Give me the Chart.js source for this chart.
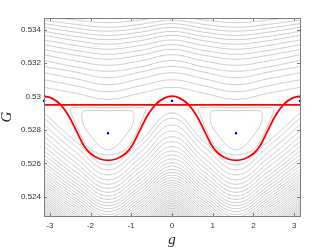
<!DOCTYPE html>
<html>
<head>
<meta charset="utf-8">
<script src="https://cdn.jsdelivr.net/npm/chart.js"></script>
<style>
  html, body { margin: 0; padding: 0; background: #fff; }
  canvas { display: block; }
</style>
</head>
<body>
<canvas id="phaseChart" width="332" height="249"></canvas>
<script>
// g positions where each level curve was read (-pi .. pi in quarter steps)
const gSample = [-3.1416, -2.3562, -1.5708, -0.7854, 0, 0.7854, 1.5708, 2.3562, 3.1416];

// grey level curves above the separatrix: G at g = 0, pi/4, pi/2
const upperAtZero = [0.535021, 0.534811, 0.534571, 0.534361, 0.534139, 0.533899, 0.533659, 0.533383,
  0.533101, 0.532819, 0.532502, 0.532160, 0.531800, 0.531422, 0.531002, 0.530552];
const upperAtQuarter = [0.534805, 0.534577, 0.534319, 0.534091, 0.533851, 0.533599, 0.533341, 0.533053,
  0.532759, 0.532466, 0.532124, 0.531770, 0.531461, 0.531062, 0.530642, 0.530192];
const upperAtHalf = [0.534661, 0.534421, 0.534151, 0.533911, 0.533659, 0.533401, 0.533131, 0.532831,
  0.532532, 0.532232, 0.531872, 0.531512, 0.531122, 0.530702, 0.530282, 0.529832];

// grey level curves below the separatrix: G at g = 0, pi/4, pi/2
const lowerAtZero = [0.529022, 0.528704, 0.528302, 0.527942, 0.527600, 0.527301, 0.527001, 0.526743,
  0.526503, 0.526263, 0.526041, 0.525843, 0.525645, 0.525465, 0.525303, 0.525141, 0.524985, 0.524841,
  0.524703, 0.524565, 0.524421, 0.524301, 0.524181, 0.524061, 0.523941, 0.523821, 0.523713, 0.523611,
  0.523509, 0.523413, 0.523317, 0.523221, 0.523125, 0.523035, 0.522945, 0.522861];
const lowerAtQuarter = [0.527307, 0.527001, 0.526653, 0.526323, 0.526029, 0.525765, 0.525495, 0.525255,
  0.525039, 0.524823, 0.524619, 0.524433, 0.524247, 0.524073, 0.523911, 0.523749, 0.523599, 0.523455,
  0.523317, 0.523179, 0.523035, 0.522915, 0.522795, 0.522675, 0.522556, 0.522436, 0.522328, 0.522226,
  0.522124, 0.522028, 0.521932, 0.521836, 0.521740, 0.521650, 0.521560, 0.521476];
const lowerAtHalf = [0.525903, 0.525603, 0.525303, 0.525003, 0.524745, 0.524505, 0.524265, 0.524043,
  0.523845, 0.523641, 0.523461, 0.523281, 0.523101, 0.522933, 0.522771, 0.522615, 0.522465, 0.522322,
  0.522183, 0.522046, 0.521902, 0.521782, 0.521662, 0.521542, 0.521422, 0.521302, 0.521194, 0.521092,
  0.520990, 0.520894, 0.520798, 0.520702, 0.520606, 0.520516, 0.520426, 0.520342];

// closed curves around the islands at g = +-pi/2
const innerIslandG = [0.927, 1.008, 1.5708, 2.134, 2.215, 2.172, 2.011, 1.888, 1.765, 1.5708,
  1.377, 1.254, 1.131, 0.969, 0.927];
const innerIslandVal = [0.529004, 0.529142, 0.529150, 0.529142, 0.529004, 0.528302, 0.527702, 0.527301,
  0.527001, 0.526803, 0.527001, 0.527301, 0.527702, 0.528302, 0.529004];
const outerIslandG = [0.639, 0.706, 1.5708, 2.436, 2.503, 2.300, 2.120, 1.900, 1.5708, 1.242, 1.022, 0.842, 0.639];
const outerIslandVal = [0.529232, 0.529340, 0.529340, 0.529340, 0.529232, 0.528000, 0.527150, 0.526680,
  0.526503, 0.526680, 0.527150, 0.528000, 0.529232];

// red curves
const redWaveG = [-3.1416, -2.942, -2.731, -2.503, -2.338, -2.173, -2.011, -1.765, -1.5708, -1.377, -1.131,
  -0.969, -0.804, -0.639, -0.411, -0.2, 0, 0.2, 0.411, 0.639, 0.804, 0.969, 1.131, 1.377, 1.5708, 1.765,
  2.011, 2.173, 2.338, 2.503, 2.731, 2.942, 3.1416];
const redWaveVal = [0.530024, 0.529892, 0.529500, 0.528704, 0.527900, 0.527103, 0.526605, 0.526263, 0.526185,
  0.526263, 0.526605, 0.527103, 0.527900, 0.528704, 0.529500, 0.529892, 0.530024, 0.529892, 0.529500,
  0.528704, 0.527900, 0.527103, 0.526605, 0.526263, 0.526185, 0.526263, 0.526605, 0.527103, 0.527900,
  0.528704, 0.529500, 0.529892, 0.530024];
const redFlatG = [-3.1416, 3.1416];
const redFlatVal = [0.5295, 0.5295];

// blue equilibrium points
const blueG = [-3.1416, -1.5708, 0, 1.5708, 3.1416];
const blueVal = [0.529742, 0.527804, 0.529742, 0.527804, 0.529742];

// axis ticks
const xTicks = [-3, -2, -1, 0, 1, 2, 3];
const yTicks = [0.524, 0.526, 0.528, 0.53, 0.532, 0.534];

const GREY = '#cdcdcd';

function points(xs, ys) {
  return xs.map((x, i) => ({ x: x, y: ys[i] }));
}

function levelCurve(atZero, atQuarter, atHalf) {
  const vals = [atZero, atQuarter, atHalf, atQuarter, atZero, atQuarter, atHalf, atQuarter, atZero];
  return {
    data: points(gSample, vals),
    showLine: true,
    borderColor: GREY,
    borderWidth: 1,
    pointRadius: 0,
    tension: 0.4,
    clip: 0,
    order: 3
  };
}

const datasets = [];
upperAtZero.forEach((v, i) => datasets.push(levelCurve(v, upperAtQuarter[i], upperAtHalf[i])));
lowerAtZero.forEach((v, i) => datasets.push(levelCurve(v, lowerAtQuarter[i], lowerAtHalf[i])));

// islands, drawn at +pi/2 and mirrored to -pi/2
[outerIslandG, innerIslandG].forEach((gs, k) => {
  const vals = k === 0 ? outerIslandVal : innerIslandVal;
  [1, -1].forEach(sign => {
    datasets.push({
      data: points(gs.map(g => sign * g), vals),
      showLine: true,
      borderColor: GREY,
      borderWidth: 1,
      pointRadius: 0,
      tension: 0.35,
      clip: 0,
      order: 3
    });
  });
});

datasets.push({
  data: points(redFlatG, redFlatVal),
  showLine: true, borderColor: '#ff0000', borderWidth: 1.8, pointRadius: 0, clip: 0, order: 1
});
datasets.push({
  data: points(redWaveG, redWaveVal),
  showLine: true, borderColor: '#ff0000', borderWidth: 1.8, pointRadius: 0,
  cubicInterpolationMode: 'monotone', clip: 0, order: 1
});
datasets.push({
  data: points(blueG, blueVal),
  showLine: false, pointRadius: 1.6, pointStyle: 'rect',
  backgroundColor: '#0000ff', borderColor: '#0000ff', borderWidth: 0, clip: false, order: 0
});

// MATLAB-like box with inward ticks on all four sides
const axisBox = {
  id: 'axisBox',
  afterDraw(chart) {
    const { ctx, chartArea: a, scales: { x, y } } = chart;
    ctx.save();
    ctx.strokeStyle = '#7f7f7f';
    ctx.lineWidth = 1;
    ctx.strokeRect(a.left + 0.5, a.top + 0.5, a.right - a.left, a.bottom - a.top);
    ctx.beginPath();
    x.ticks.forEach(t => {
      const px = Math.round(x.getPixelForValue(t.value)) + 0.5;
      ctx.moveTo(px, a.bottom); ctx.lineTo(px, a.bottom - 3);
      ctx.moveTo(px, a.top); ctx.lineTo(px, a.top + 3);
    });
    y.ticks.forEach(t => {
      const py = Math.round(y.getPixelForValue(t.value)) + 0.5;
      ctx.moveTo(a.left, py); ctx.lineTo(a.left + 3, py);
      ctx.moveTo(a.right, py); ctx.lineTo(a.right - 3, py);
    });
    ctx.stroke();
    ctx.restore();
  }
};

const tickFont = { family: 'Liberation Sans', size: 8 };

new Chart(document.getElementById('phaseChart'), {
  type: 'scatter',
  data: { datasets: datasets },
  options: {
    responsive: false,
    animation: false,
    events: [],
    layout: { padding: { top: 18, right: 32, left: 0, bottom: 0 } },
    plugins: { legend: { display: false }, tooltip: { enabled: false } },
    scales: {
      x: {
        type: 'linear',
        min: -Math.PI,
        max: Math.PI,
        afterBuildTicks: s => { s.ticks = xTicks.map(v => ({ value: v })); },
        afterFit: s => { s.height = 33; },
        grid: { display: false, drawTicks: false },
        border: { display: false },
        ticks: { font: tickFont, color: '#333333', padding: 5, autoSkip: false, maxRotation: 0,
          callback: v => String(v) },
        title: { display: true, text: 'g', color: '#262626', padding: 0,
          font: { family: 'Liberation Serif', style: 'italic', size: 15, lineHeight: 1.2 } }
      },
      y: {
        type: 'linear',
        min: 0.52285,
        max: 0.5347,
        afterBuildTicks: s => { s.ticks = yTicks.map(v => ({ value: v })); },
        afterFit: s => { s.width = 44; },
        grid: { display: false, drawTicks: false },
        border: { display: false },
        ticks: { font: tickFont, color: '#333333', padding: 3, autoSkip: false,
          callback: v => String(+v.toFixed(3)) },
        title: { display: true, text: 'G', color: '#262626', padding: 0,
          font: { family: 'Liberation Serif', style: 'italic', size: 15, lineHeight: 1 } }
      }
    }
  },
  plugins: [axisBox]
});
</script>
</body>
</html>
